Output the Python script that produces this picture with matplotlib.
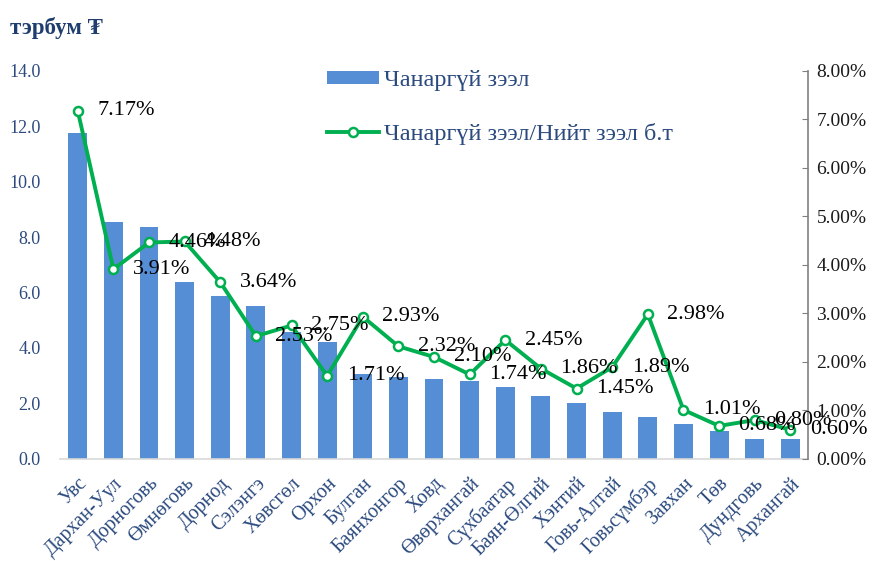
import matplotlib.pyplot as plt
import numpy as np

plt.rcParams['font.family'] = ['Liberation Serif', 'DejaVu Serif']

# aimag names
aimags = ['Увс', 'Дархан-Уул', 'Дорноговь', 'Өмнөговь', 'Дорнод', 'Сэлэнгэ',
          'Хөвсгөл', 'Орхон', 'Булган', 'Баянхонгор', 'Ховд', 'Өвөрхангай',
          'Сүхбаатар', 'Баян-Өлгий', 'Хэнтий', 'Говь-Алтай', 'Говьсүмбэр',
          'Завхан', 'Төв', 'Дундговь', 'Архангай']
# bad loans, bn tugrik
chanargui = [11.75, 8.55, 8.35, 6.38, 5.88, 5.50, 4.58, 4.22, 3.07, 2.96, 2.87,
             2.80, 2.60, 2.28, 2.00, 1.68, 1.52, 1.25, 0.99, 0.72, 0.70]
# share of total loans, %
huvi = [7.17, 3.91, 4.46, 4.48, 3.64, 2.53, 2.75, 1.71, 2.93, 2.32, 2.10,
        1.74, 2.45, 1.86, 1.45, 1.89, 2.98, 1.01, 0.68, 0.80, 0.60]

tick_col = '#2B4A7E'
bar_col = '#558ED5'
line_col = '#00B050'

fig = plt.figure(figsize=(8.73, 5.61), dpi=100)
ax = fig.add_axes([0.0687, 0.182, 0.857, 0.692])
x = np.arange(len(aimags))

ax.bar(x, chanargui, width=0.53, color=bar_col, label='Чанаргүй зээл', zorder=2)
ax.set_xlim(-0.5, len(aimags) - 0.5)
ax.set_ylim(0, 14)
ax.set_yticks(np.arange(0, 14.1, 2))
ax.set_yticklabels(['%.1f' % v for v in np.arange(0, 14.1, 2)])
ax.tick_params(axis='y', length=0, labelsize=13, labelcolor=tick_col, pad=14)
ax.set_xticks(x)
ax.set_xticklabels(aimags, rotation=45, ha='right', rotation_mode='anchor')
ax.tick_params(axis='x', length=0, labelsize=14.3, labelcolor=tick_col, pad=11)
for s in ['top', 'right', 'left']:
    ax.spines[s].set_visible(False)
ax.spines['bottom'].set_color('#D9D9D9')
ax.spines['bottom'].set_linewidth(1.2)

ax2 = ax.twinx()
ax2.plot(x, np.array(huvi) / 100, color=line_col, lw=2.8, marker='o', ms=6.5,
         mfc='white', mec=line_col, mew=1.8, label='Чанаргүй зээл/Нийт зээл б.т', zorder=3)
ax2.set_ylim(0, 0.08)
ax2.set_yticks(np.arange(0, 0.081, 0.01))
ax2.set_yticklabels(['%.2f%%' % (v * 100) for v in np.arange(0, 0.081, 0.01)])
ax2.tick_params(axis='y', length=4, direction='in', labelsize=14, labelcolor='#1a1a1a', color='#808080', pad=6)
for s in ['top', 'left', 'bottom']:
    ax2.spines[s].set_visible(False)
ax2.spines['right'].set_color('#808080')
ax2.spines['right'].set_linewidth(1.2)

for xi, v in zip(x, huvi):
    ax2.annotate('%.2f%%' % v, (xi, v / 100), xytext=(14, 0), textcoords='offset points',
                 ha='left', va='center', fontsize=16, color='black', zorder=4)

h1, l1 = ax.get_legend_handles_labels()
h2, l2 = ax2.get_legend_handles_labels()
leg = ax2.legend(h1 + h2, l1 + l2, loc='upper left', bbox_to_anchor=(0.357, 1.002),
                 frameon=False, fontsize=17.5, labelspacing=1.3, handlelength=2.15,
                 handleheight=0.45, handletextpad=0.2, borderpad=0, borderaxespad=0)
for t in leg.get_texts():
    t.set_color(tick_col)

fig.text(0.012, 0.95, 'тэрбум ₮', fontsize=16.5, fontweight='bold', color='#1F3D6E', va='center')

fig.savefig('out.png', dpi=100)
